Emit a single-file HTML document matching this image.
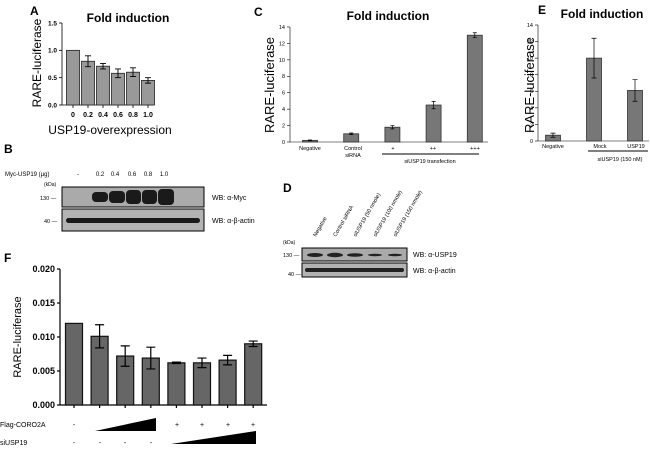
<!DOCTYPE html>
<html><head><meta charset="utf-8">
<style>
body{margin:0;background:#fff;width:650px;height:461px;overflow:hidden}
svg{display:block;font-family:"Liberation Sans",Arial,sans-serif}
</style></head>
<body>
<svg id="fig" width="650" height="461" viewBox="0 0 650 461">
<!-- Panel letters -->
<text x="30" y="15" font-size="12" font-weight="bold">A</text>
<text x="4" y="153" font-size="12" font-weight="bold">B</text>
<text x="254" y="16" font-size="12" font-weight="bold">C</text>
<text x="283" y="192" font-size="12" font-weight="bold">D</text>
<text x="538" y="14" font-size="12" font-weight="bold">E</text>
<text x="4" y="262" font-size="12" font-weight="bold">F</text>

<!-- Titles -->
<text x="128" y="22" font-size="12" font-weight="bold" text-anchor="middle">Fold induction</text>
<text x="388" y="20" font-size="12" font-weight="bold" text-anchor="middle">Fold induction</text>
<text x="602" y="18" font-size="12" font-weight="bold" text-anchor="middle">Fold induction</text>

<!-- axis titles -->
<text transform="translate(41,63) rotate(-90)" font-size="12" text-anchor="middle">RARE-luciferase</text>
<text x="110" y="134" font-size="12" text-anchor="middle">USP19-overexpression</text>
<text transform="translate(274,85) rotate(-90)" font-size="13" text-anchor="middle">RARE-luciferase</text>
<text transform="translate(534,85) rotate(-90)" font-size="13" text-anchor="middle">RARE-luciferase</text>
<text transform="translate(21,337) rotate(-90)" font-size="11" text-anchor="middle">RARE-luciferase</text>

<!-- C labels -->
<g font-size="5.5" text-anchor="middle">
<text x="310" y="150">Negative</text><text x="353" y="150">Control</text><text x="353" y="157">siRNA</text>
<text x="393" y="150">+</text><text x="433" y="150">++</text><text x="475" y="150">+++</text>
<line x1="382" y1="154" x2="479" y2="154" stroke="#000" stroke-width="1"/>
<text x="430" y="163">siUSP19 transfection</text>
</g>
<!-- E labels -->
<g font-size="5.5" text-anchor="middle">
<text x="553" y="148">Negative</text><text x="600" y="148">Mock</text><text x="636" y="148">USP19</text>
<line x1="588" y1="151" x2="648" y2="151" stroke="#000" stroke-width="1"/>
<text x="620" y="161">siUSP19 (150 nM)</text>
</g>

<!-- Blot B -->
<g font-size="6">
<text x="5" y="176">Myc-USP19 (µg)</text>
<g text-anchor="middle"><text x="78" y="176">-</text><text x="100" y="176">0.2</text><text x="115" y="176">0.4</text><text x="132" y="176">0.6</text><text x="148" y="176">0.8</text><text x="164" y="176">1.0</text></g>
<text x="44" y="186" font-size="5">(kDa)</text>
<text x="40" y="200" font-size="5.5">130 —</text>
<text x="44" y="223" font-size="5.5">40 —</text>
<rect x="62" y="187" width="142" height="20" fill="#aaa" stroke="#000"/>
<rect x="62" y="209" width="142" height="22" fill="#b3b3b3" stroke="#000"/>
<g fill="#1a1a1a">
<rect x="92" y="192" width="16" height="10" rx="4"/><rect x="109" y="191" width="16" height="12" rx="4"/><rect x="126" y="190" width="15" height="14" rx="4"/><rect x="142" y="190" width="15" height="14" rx="4"/><rect x="158" y="189" width="16" height="16" rx="4"/>
<rect x="66" y="218" width="134" height="5" rx="2.5"/>
</g>
<text x="212" y="200" font-size="7">WB: α-Myc</text>
<text x="212" y="223" font-size="7">WB: α-β-actin</text>
</g>

<!-- Blot D -->
<g font-size="5.5">
<g font-size="5.5">
<text transform="translate(316,237) rotate(-60)">Negative</text>
<text transform="translate(336,237) rotate(-60)">Control siRNA</text>
<text transform="translate(356,237) rotate(-60)">siUSP19 (50 nmole)</text>
<text transform="translate(376,237) rotate(-60)">siUSP19 (100 nmole)</text>
<text transform="translate(396,237) rotate(-60)">siUSP19 (150 nmole)</text>
</g>
<text x="283" y="244" font-size="5">(kDa)</text>
<text x="283" y="257">130 —</text>
<text x="288" y="276">40 —</text>
<rect x="302" y="248" width="105" height="13" fill="#aaa" stroke="#000"/>
<rect x="302" y="263" width="105" height="14" fill="#b3b3b3" stroke="#000"/>
<g fill="#222">
<ellipse cx="315" cy="255" rx="8" ry="2"/><ellipse cx="335" cy="255" rx="8" ry="2.2"/><ellipse cx="355" cy="255" rx="8" ry="1.8"/><ellipse cx="375" cy="255" rx="7" ry="1.2"/><ellipse cx="395" cy="255" rx="7" ry="1.2"/>
<rect x="305" y="268" width="99" height="4" rx="2"/>
</g>
<text x="413" y="257" font-size="7">WB: α-USP19</text>
<text x="413" y="273" font-size="7">WB: α-β-actin</text>
</g>

<!-- F bottom rows -->
<g font-size="7">
<text x="0" y="427">Flag-CORO2A</text>
<text x="0" y="445">siUSP19</text>
<g text-anchor="middle">
<text x="74" y="427">-</text><text x="177" y="427">+</text><text x="202" y="427">+</text><text x="228" y="427">+</text><text x="253" y="427">+</text>
<text x="74" y="445">-</text><text x="100" y="445">-</text><text x="125" y="445">-</text><text x="151" y="445">-</text>
</g>
<polygon points="95,431 156,431 156,418" fill="#000"/>
<polygon points="171,444 256,444 256,431" fill="#000"/>
</g>
<g id="charts"></g>
</svg>
<script>
// Panel A
const aCats = ["0","0.2","0.4","0.6","0.8","1.0"];
const aVals = [1.0, 0.8, 0.71, 0.58, 0.6, 0.45];
const aErrs = [0, 0.1, 0.05, 0.08, 0.08, 0.05];
const aTicks = ["0.0","0.5","1.0","1.5"];
// Panel C
const cCats = ["Negative","Control siRNA","+","++","+++"];
const cVals = [0.2, 1.0, 1.8, 4.5, 13.0];
const cErrs = [0.05, 0.1, 0.2, 0.45, 0.3];
const cTicks = ["0","2","4","6","8","10","12","14"];
// Panel E
const eCats = ["Negative","Mock","USP19"];
const eVals = [0.7, 10.0, 6.1];
const eErrs = [0.25, 2.4, 1.3];
const eTicks = ["0","2","4","6","8","10","12","14"];
// Panel F
const fCats = ["1","2","3","4","5","6","7","8"];
const fVals = [0.012, 0.0101, 0.0072, 0.0069, 0.0062, 0.0062, 0.0066, 0.0090];
const fErrs = [0, 0.0017, 0.0015, 0.0016, 0.0001, 0.0007, 0.0007, 0.0004];
const fTicks = ["0.000","0.005","0.010","0.015","0.020"];

const NS = "http://www.w3.org/2000/svg";
const root = document.getElementById("charts");
function mk(tag, attrs, parent){
  const el = document.createElementNS(NS, tag);
  for (const k in attrs) el.setAttribute(k, attrs[k]);
  (parent||root).appendChild(el);
  return el;
}
function chart(id, cats, vals, errs, ticks, cfg){
  const g = mk("g", {});
  
  
  const tmax = parseFloat(ticks[ticks.length-1]);
  const y = v => cfg.y0 - (v / tmax) * (cfg.y0 - cfg.y1);
  const x = i => cfg.x0 + cfg.first + i * cfg.step;
  const ya = mk("line", {x1:cfg.ax, y1:cfg.y1, x2:cfg.ax, y2:cfg.y0, stroke:"#000", "stroke-width":cfg.aw}, g);
  
  
  const xa = mk("line", {x1:cfg.ax, y1:cfg.y0, x2:cfg.xEnd, y2:cfg.y0, stroke:"#000", "stroke-width":cfg.aw}, g);
  
  
  ticks.forEach(t => {
    const v = parseFloat(t);
    mk("line", {x1:cfg.ax-3, y1:y(v), x2:cfg.ax, y2:y(v), stroke:"#000", "stroke-width":cfg.aw}, g);
    const tx = mk("text", {x:cfg.ax-5, y:y(v)+cfg.tfs*0.35, "font-size":cfg.tfs, "font-weight":cfg.tb?"bold":"normal", "text-anchor":"end"}, g);
    tx.textContent = t;
    
    
  });
  vals.forEach((v, i) => {
    const cx = x(i);
    const r = mk("rect", {x:cx-cfg.bw/2, y:y(v), width:cfg.bw, height:cfg.y0-y(v), fill:cfg.fill, stroke:cfg.stroke, "stroke-width":cfg.bsw}, g);
    
    
    if (errs[i] > 0) {
      const e = mk("path", {d:`M${cx},${y(v+errs[i])}V${y(v-errs[i])}M${cx-cfg.cap},${y(v+errs[i])}H${cx+cfg.cap}M${cx-cfg.cap},${y(v-errs[i])}H${cx+cfg.cap}`, stroke:"#000", "stroke-width":cfg.ew, fill:"none"}, g);
      
      
    }
    if (cfg.xticks) mk("line", {x1:cx, y1:cfg.y0, x2:cx, y2:cfg.y0+3, stroke:"#000", "stroke-width":cfg.aw}, g);
    if (cfg.catLabels) {
      const lt = mk("text", {x:cx, y:cfg.y0+12, "font-size":7, "font-weight":"bold", "text-anchor":"middle"}, g);
      lt.textContent = cats[i];
      
      
    }
  });
}
chart("chart-a", aCats, aVals, aErrs, aTicks, {ax:62, x0:62, first:11, step:15, xEnd:153, y0:105, y1:23, bw:13, fill:"#999", stroke:"#222", bsw:0.8, cap:3, ew:0.9, aw:0.8, tfs:6.5, tb:true, xticks:true, catLabels:true});
chart("chart-c", cCats, cVals, cErrs, cTicks, {ax:290, x0:290, first:20, step:41.2, xEnd:488, y0:142, y1:27, bw:15, fill:"#777", stroke:"#333", bsw:0.8, cap:2, ew:0.7, aw:0.6, tfs:5.5, tb:false, xticks:false, catLabels:false});
chart("chart-e", eCats, eVals, eErrs, eTicks, {ax:538, x0:538, first:15, step:41, xEnd:649, y0:141, y1:25, bw:15, fill:"#777", stroke:"#333", bsw:0.8, cap:2.5, ew:0.7, aw:0.6, tfs:5.5, tb:false, xticks:false, catLabels:false});
chart("chart-f", fCats, fVals, fErrs, fTicks, {ax:60, x0:60, first:14, step:25.6, xEnd:267, y0:405, y1:269, bw:17, fill:"#666", stroke:"#111", bsw:1.2, cap:4.5, ew:1.2, aw:1.2, tfs:9, tb:true, xticks:true, catLabels:false});
</script>
</body></html>
